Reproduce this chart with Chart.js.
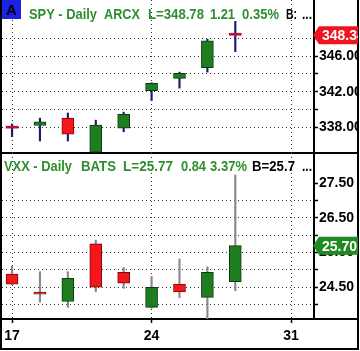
<!DOCTYPE html>
<html>
<head>
<meta charset="utf-8">
<script src="https://cdn.jsdelivr.net/npm/chart.js@4.4.0/dist/chart.umd.min.js"></script>
<style>
  body { margin: 0; background: #fff; }
  #wrap { position: relative; width: 360px; height: 351px; overflow: hidden; background: #fff; }
  #wrap canvas { position: absolute; }
  .ln { position: absolute; background: #000; }
</style>
</head>
<body>
<div id="wrap">
  <div class="ln" style="left:0;top:0;width:2px;height:350px"></div>
  <div class="ln" style="left:357px;top:0;width:2px;height:350px"></div>
  <div class="ln" style="left:0;top:348px;width:359px;height:2px"></div>
  <div class="ln" style="left:0;top:152px;width:359px;height:2px"></div>
  <div class="ln" style="left:0;top:318px;width:359px;height:2px"></div>
  <div class="ln" style="left:313px;top:0;width:2px;height:320px"></div>
  <canvas id="spyChart" width="356" height="153" style="left:2px;top:0"></canvas>
  <canvas id="vxxChart" width="356" height="196" style="left:2px;top:153px"></canvas>
</div>
<script>
// trading days (Aug), x = index
const days = ["17", "18", "19", "20", "21", "24", "25", "26", "27"];
const tickIdx = [0, 5, 10];
const tickLabels = ["17", "24", "31"];

const spyOpen  = [337.94, 338.20, 339.03, 335.20, 337.90, 342.10, 343.50, 344.70, 348.50];
const spyHigh  = [338.37, 339.03, 339.60, 338.80, 339.70, 343.00, 344.20, 347.90, 349.90];
const spyLow   = [336.94, 336.46, 336.46, 335.00, 337.50, 341.00, 342.40, 344.20, 346.50];
const spyClose = [337.90, 338.60, 337.23, 338.25, 339.45, 342.93, 344.05, 347.70, 348.34];
const spyTicks = [338, 340, 342, 344, 346, 348];

const vxxOpen  = [24.88, 24.36, 24.09, 25.75, 24.93, 23.92, 24.59, 24.21, 24.66];
const vxxHigh  = [25.12, 24.95, 24.95, 25.86, 25.07, 24.81, 25.32, 25.09, 27.74];
const vxxLow   = [24.58, 24.07, 23.92, 24.37, 24.47, 23.90, 24.20, 23.40, 24.40];
const vxxClose = [24.59, 24.30, 24.76, 24.50, 24.62, 24.50, 24.37, 24.93, 25.70];
const vxxTicks = [24.0, 24.5, 25.0, 25.5, 26.0, 26.5, 27.0, 27.5];

const spyHeader = [["SPY - Daily", 29, 68], ["ARCX", 104, 36], ["L=348.78", 148, 56],
  ["1.21", 210, 25], ["0.35%", 242, 37]];
const vxxHeader = [["VXX - Daily", 4, 68], ["BATS", 81, 35], ["L=25.77", 123, 50],
  ["0.84", 181, 25], ["3.37%", 210, 37]];

const FONT = "'Liberation Sans', Arial, sans-serif";
const GREEN = "#1e7d1e", RED = "#f5161b", FLAT = "#b8123a", HEAD = "#2f8f2f";

function isFlat(ctx, open, close) {
  const s = ctx.chart.scales.y;
  const i = ctx.dataIndex;
  if (!s || i === undefined) return false;
  return Math.abs(s.getPixelForValue(open[i]) - s.getPixelForValue(close[i])) < 2;
}

function candleSets(open, high, low, close, wickColor) {
  return [
    {
      data: days.map((d, i) => ({ x: i, y: [open[i], close[i]] })),
      grouped: false,
      barThickness: 12,
      minBarLength: 2,
      borderSkipped: false,
      backgroundColor: ctx => {
        const i = ctx.dataIndex;
        if (isFlat(ctx, open, close)) return FLAT;
        return close[i] >= open[i] ? GREEN : RED;
      },
      borderColor: ctx => close[ctx.dataIndex] >= open[ctx.dataIndex] ? "#0b3a0b" : "#7a0a0a",
      borderWidth: ctx => isFlat(ctx, open, close) ? 0 : 1
    },
    {
      data: days.map((d, i) => ({ x: i, y: [low[i], high[i]] })),
      grouped: false,
      barThickness: 1.5,
      backgroundColor: wickColor,
      borderWidth: 0
    }
  ];
}

function drawHeader(c, parts, extra, baseY) {
  c.save();
  c.font = "bold 15px " + FONT;
  c.textBaseline = "alphabetic";
  c.fillStyle = HEAD;
  parts.forEach(p => c.fillText(p[0], p[1] - 2, baseY, p[2]));
  c.fillStyle = "#000";
  extra.forEach(p => c.fillText(p[0], p[1] - 2, baseY, p[2]));
  c.restore();
}

function priceBox(chart, value, color) {
  const c = chart.ctx;
  const y = chart.scales.y.getPixelForValue(value);
  const x0 = chart.chartArea.right - 1;
  c.save();
  c.fillStyle = color;
  c.beginPath();
  c.moveTo(x0, y);
  c.lineTo(x0 + 6, y - 9);
  c.lineTo(chart.width, y - 9);
  c.lineTo(chart.width, y + 9);
  c.lineTo(x0 + 6, y + 9);
  c.closePath();
  c.fill();
  c.fillStyle = "#fff";
  c.font = "bold 14px " + FONT;
  c.textBaseline = "middle";
  c.fillText(value.toFixed(2), x0 + 9, y + 1);
  c.restore();
}

function makeOptions(yMin, yMax, yTicks, labelFn, gridFn, showX) {
  return {
    responsive: false,
    animation: false,
    layout: { padding: 0 },
    plugins: { legend: { display: false }, tooltip: { enabled: false } },
    scales: {
      x: {
        type: "linear",
        min: -0.36,
        max: 10.82,
        offset: false,
        afterBuildTicks: s => { s.ticks = tickIdx.map(v => ({ value: v })); },
        afterFit: s => {
          s.height = showX ? 30 : 0;
          s.paddingLeft = 0;
          s.paddingRight = 0;
        },
        ticks: {
          display: showX,
          autoSkip: false,
          maxRotation: 0,
          padding: 5,
          color: "#000",
          font: { family: FONT, size: 14, weight: "bold" },
          callback: v => tickLabels[tickIdx.indexOf(v)]
        },
        grid: { color: "#333", lineWidth: 1, offset: false, drawTicks: showX,
                tickLength: 4, tickColor: "#000", tickWidth: 1.5 },
        border: { display: false, dash: [1, 3] }
      },
      y: {
        position: "right",
        min: yMin,
        max: yMax,
        afterBuildTicks: s => { s.ticks = yTicks.map(v => ({ value: v })); },
        afterFit: s => {
          s.width = 44;
          s.paddingTop = 0;
          s.paddingBottom = 0;
        },
        ticks: {
          autoSkip: false,
          padding: 1,
          color: "#000",
          font: { family: FONT, size: 14, weight: "bold" },
          callback: labelFn
        },
        grid: { color: gridFn, lineWidth: 1, tickLength: 4, tickColor: "#000", tickWidth: 1.5 },
        border: { display: false, dash: [1, 3] }
      }
    }
  };
}

new Chart(document.getElementById("spyChart"), {
  type: "bar",
  data: { datasets: candleSets(spyOpen, spyHigh, spyLow, spyClose, "#1c1c78") },
  options: makeOptions(335.11, 352.3, spyTicks,
    v => ((v - 338) % 4 === 0 ? v.toFixed(2) : ""),
    () => "#333", false),
  plugins: [{
    id: "spyOverlay",
    afterDraw(chart) {
      const c = chart.ctx;
      c.save();
      c.fillStyle = "#1c22e6";
      c.fillRect(0, 0, 19, 19);
      c.fillStyle = "#000";
      c.font = "bold 15px " + FONT;
      c.textAlign = "center";
      c.textBaseline = "middle";
      c.fillText("A", 9.5, 10.5);
      c.restore();
      drawHeader(c, spyHeader, [["B:", 286, 11], ["...", 302, 10]], 19);
      priceBox(chart, spyClose[spyClose.length - 1], "#f0141e");
    }
  }]
});

new Chart(document.getElementById("vxxChart"), {
  type: "bar",
  data: { datasets: candleSets(vxxOpen, vxxHigh, vxxLow, vxxClose, "#8a8a8a") },
  options: makeOptions(23.586, 28.37, vxxTicks,
    v => (Math.round(v * 2) % 2 === 1 ? v.toFixed(2) : ""),
    ctx => (ctx.tick && ctx.tick.value >= 27.5 ? "rgba(0,0,0,0)" : "#333"), true),
  plugins: [{
    id: "vxxOverlay",
    afterDraw(chart) {
      drawHeader(chart.ctx, vxxHeader, [["B=25.7", 252, 43], ["...", 302, 10]], 18);
      priceBox(chart, vxxClose[vxxClose.length - 1], "#1f8a1f");
    }
  }]
});
</script>
</body>
</html>
